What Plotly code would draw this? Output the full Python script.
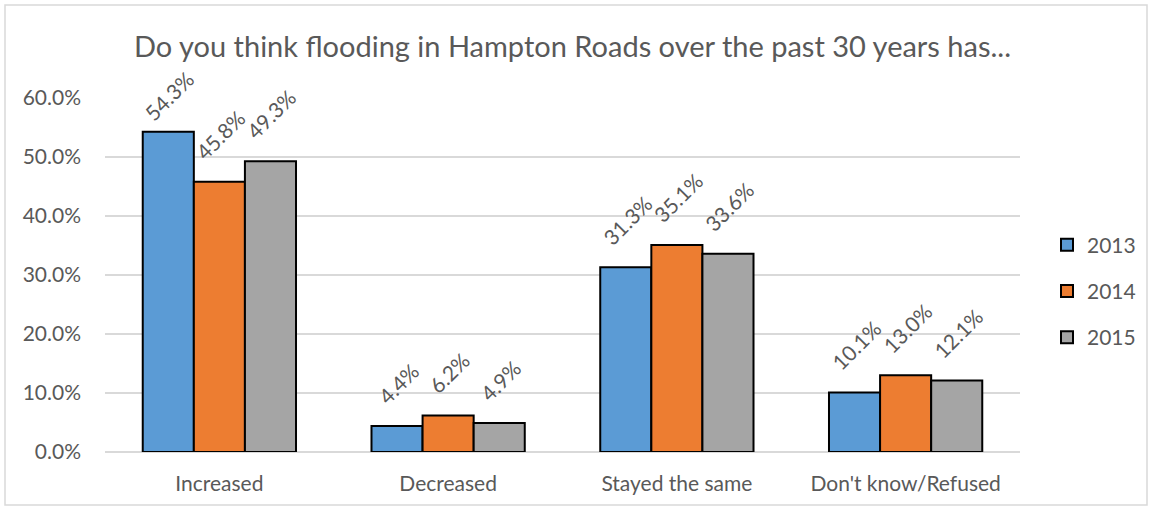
import plotly.graph_objects as go

categories = ["Increased", "Decreased", "Stayed the same", "Don't know/Refused"]
years = ["2013", "2014", "2015"]
v2013 = [54.3, 4.4, 31.3, 10.1]
v2014 = [45.8, 6.2, 35.1, 13.0]
v2015 = [49.3, 4.9, 33.6, 12.1]
series = [v2013, v2014, v2015]
colors = ["#5b9bd5", "#ed7d31", "#a5a5a5"]
yticks = [0, 10, 20, 30, 40, 50, 60]

FONT = "Lato, Noto Sans, sans-serif"
TXT = "#595959"

L, R, T, B = 105, 131, 98, 58
W, H = 1151, 510
pw, ph = W - L - R, H - T - B
YMAX = 60
bargap = 0.33
barpx = pw / len(categories) * (1 - bargap) / 3

fig = go.Figure()
for i, (yr, vals) in enumerate(zip(years, series)):
    fig.add_trace(go.Bar(
        x=categories, y=vals, name=yr,
        marker=dict(color=colors[i], line=dict(color="black", width=2)),
        legendgroup=yr,
    ))

# data labels: rotated, lifted above the bar, but kept inside the chart area (as Excel does)
LABEL_GAP, LABEL_H, LABEL_TOP_LIMIT = 15, 50, 78
annotations = []
for i, vals in enumerate(series):
    for c, v in zip(categories, vals):
        bar_top_px = T + ph * (1 - v / YMAX)
        gap = max(2, min(LABEL_GAP, bar_top_px - LABEL_H - LABEL_TOP_LIMIT))
        annotations.append(dict(
            x=c, y=v, xref="x", yref="y", text=f"{v:.1f}%",
            showarrow=False, textangle=-45,
            xanchor="center", yanchor="bottom",
            xshift=(i - 1) * barpx + 1, yshift=gap,
            font=dict(family=FONT, size=21, color=TXT),
        ))

fig.update_layout(
    width=W, height=H, autosize=False,
    margin=dict(l=L, r=R, t=T, b=B, autoexpand=False),
    paper_bgcolor="white", plot_bgcolor="white",
    barmode="group", bargap=bargap, bargroupgap=0,
    title=dict(text="Do you think flooding in Hampton Roads over the past 30 years has...",
               x=(135 + 1010) / 2 / W, xanchor="center", y=1 - 47 / H, yanchor="middle",
               font=dict(family=FONT, size=29, color=TXT)),
    font=dict(family=FONT, size=21, color=TXT),
    legend=dict(x=(1047 - L) / pw, xanchor="left", y=(H - B - 291) / ph, yanchor="middle",
                font=dict(family=FONT, size=21, color=TXT),
                tracegroupgap=16, traceorder="grouped", itemwidth=30),
    annotations=annotations,
    showlegend=True,
)
fig.update_xaxes(showline=False, ticks="", ticklabelstandoff=17,
                 tickfont=dict(family=FONT, size=21, color=TXT))
fig.update_yaxes(range=[0, YMAX], tickvals=yticks, ticktext=[f"{t:.1f}%" for t in yticks],
                 showgrid=True, gridcolor="#d9d9d9", gridwidth=1.5,
                 zeroline=True, zerolinecolor="#d9d9d9", zerolinewidth=1.5,
                 ticklabelstandoff=23,
                 tickfont=dict(family=FONT, size=21, color=TXT), ticks="", ticklen=0)
fig.add_shape(type="rect", xref="paper", yref="paper",
              x0=(5 - L) / pw, x1=(1147 - L) / pw,
              y0=(H - B - 505) / ph, y1=(H - B - 5) / ph,
              line=dict(color="#d9d9d9", width=1.5), layer="below")

fig.write_html("out.html", config={"displayModeBar": False, "responsive": False},
               default_width=f"{W}px", default_height=f"{H}px",
               post_script="document.body.style.margin='0';document.body.style.overflow='hidden';")
